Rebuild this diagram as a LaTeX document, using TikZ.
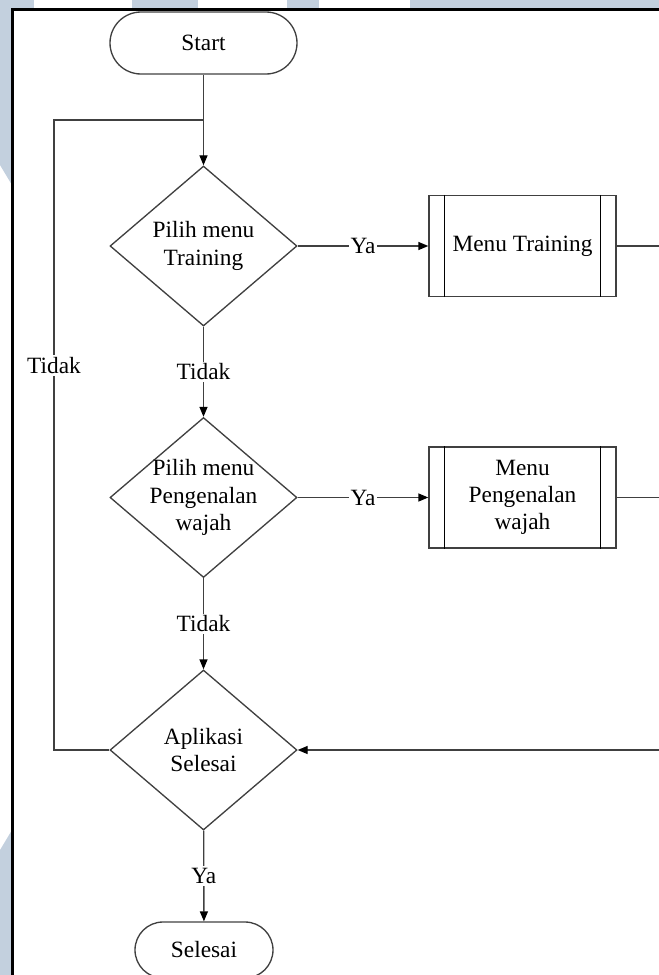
\documentclass[tikz,border=0pt]{standalone}
\usepackage{fontspec}
\setmainfont{Liberation Serif}
\usetikzlibrary{shapes.geometric, arrows.meta, calc}

\definecolor{linegray}{RGB}{64,64,64}
\definecolor{wmblue}{RGB}{195,208,222}

\tikzset{
  flow/.style   = {draw=linegray, line width=1pt},
  arr/.style    = {-{Triangle[length=7.5pt, width=6pt, color=black]}},
  txt/.style    = {font=\fontsize{17.5pt}{20.5pt}\selectfont, text=black, align=center},
  term/.style   = {flow, txt, rectangle, inner sep=0pt},
  % the outline keeps its fixed size; the wording sits in a centred label
  decision/.style = {flow, diamond, inner sep=0pt,
                     minimum width=140.25pt, minimum height=120pt,
                     label={[txt]center:#1}},
  subproc/.style  = {flow, txt, rectangle, inner sep=0pt,
                     minimum width=140.25pt, minimum height=75.75pt},
  lbl/.style    = {txt, fill=white, inner sep=1.5pt},
}

\begin{document}
\begin{tikzpicture}[x=0.75pt, y=-0.75pt]
  % page area, one unit = one pixel, y grows downwards
  \useasboundingbox (0,0) rectangle (659,975);
  \clip (0,0) rectangle (659,975);

  % pale watermark bands behind the sheet
  \fill[wmblue] (0,0) rectangle (34,9);
  \fill[wmblue] (132,0) rectangle (198,9);
  \fill[wmblue] (287,0) rectangle (319,9);
  \fill[wmblue] (410,0) rectangle (659,9);
  \fill[wmblue] (0,0) -- (12,0) -- (12,185) -- (0,165) -- cycle;
  \fill[wmblue] (0,850) -- (12,830) -- (12,975) -- (0,975) -- cycle;

  % sheet frame
  \draw[black, line width=2.4pt] (12.8,980) -- (12.8,9.5) -- (665,9.5);

  % nodes
  \node[term, minimum width=140.25pt, minimum height=46.5pt, rounded corners=23.25pt]
        (start) at (203.5,43) {Start};
  \node[decision={Pilih menu\\Training}] (d1) at (203.5,246) {};
  \node[subproc]  (mt) at (522.5,246) {Menu Training};
  \node[decision={Pilih menu\\Pengenalan\\wajah}] (d2) at (203.5,497.5) {};
  \node[subproc]  (mp) at (522.5,497.5) {Menu\\Pengenalan\\wajah};
  \node[decision={Aplikasi\\Selesai}] (d3) at (203.5,750) {};
  \node[term, minimum width=103.5pt, minimum height=42pt, rounded corners=21pt]
        (sel) at (204,950) {Selesai};

  % double side bars of the predefined-process boxes
  \foreach \b in {mt, mp} {
    \draw[draw=black, line width=0.9pt]
      ($(\b.north west)+(16.5,0)$) -- ($(\b.south west)+(16.5,0)$)
      ($(\b.north east)+(-16.5,0)$) -- ($(\b.south east)+(-16.5,0)$);
  }

  % routing points
  \coordinate (j)  at (203.5,120);
  \coordinate (lt) at (54,120);
  \coordinate (lb) at (54,750);
  \coordinate (r1) at (663,246);
  \coordinate (r2) at (663,497.5);
  \coordinate (r3) at (663,750);

  % connectors
  \draw[flow] (start) -- (j);
  \draw[flow, arr] (j) -- (d1);
  \draw[flow, arr] (d1) -- node[lbl] {Ya} (mt);
  \draw[flow, arr] (d1) -- node[lbl] {Tidak} (d2);
  \draw[flow, arr] (d2) -- node[lbl] {Ya} (mp);
  \draw[flow, arr] (d2) -- node[lbl] {Tidak} (d3);
  \draw[flow, arr] (d3) -- node[lbl] {Ya} (sel);
  \draw[flow] (mt) -- (r1) -- (r3);
  \draw[flow] (mp) -- (r2);
  \draw[flow, arr] (r3) -- (d3);
  \draw[flow] (d3) -- (lb) -- node[lbl, pos=0.61] {Tidak} (lt) -- (j);
\end{tikzpicture}
\end{document}
